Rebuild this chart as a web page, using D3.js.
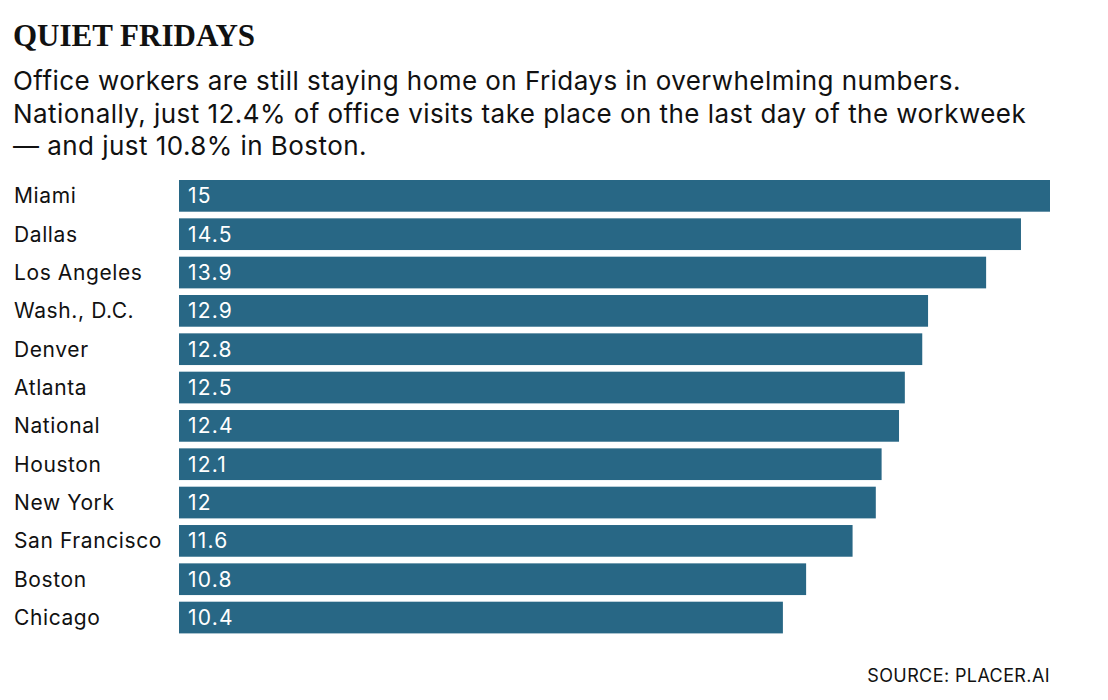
<!DOCTYPE html>
<html>
<head>
<meta charset="utf-8">
<script src="https://cdn.jsdelivr.net/npm/d3@7"></script>
<style>
  body { margin: 0; background: #fff; }
  svg { display: block; }
</style>
</head>
<body>
<div id="chart"></div>
<script>
// data
var cities = ['Miami', 'Dallas', 'Los Angeles', 'Wash., D.C.', 'Denver', 'Atlanta',
  'National', 'Houston', 'New York', 'San Francisco', 'Boston', 'Chicago'];
var fridayShare = [15, 14.5, 13.9, 12.9, 12.8, 12.5, 12.4, 12.1, 12, 11.6, 10.8, 10.4];

var titleText = 'QUIET FRIDAYS';
var subtitleLines = [
  'Office workers are still staying home on Fridays in overwhelming numbers.',
  'Nationally, just 12.4% of office visits take place on the last day of the workweek',
  '\u2014 and just 10.8% in Boston.'
];
var sourceText = 'SOURCE: PLACER.AI';

var width = 1108, height = 700;
var sans = 'Inter, "Noto Sans", sans-serif';
var barColor = '#286785';

var svg = d3.select('#chart').append('svg')
  .attr('width', width)
  .attr('height', height);

// header
svg.append('text')
  .attr('x', 13)
  .attr('y', 46)
  .attr('font-family', '"Liberation Serif", "DejaVu Serif", serif')
  .attr('font-weight', 'bold')
  .attr('font-size', 31)
  .attr('fill', '#111')
  .text(titleText);

svg.append('g')
  .selectAll('text')
  .data(subtitleLines)
  .enter()
  .append('text')
  .attr('x', 13)
  .attr('y', function(d, i) { return 90 + i * 32.5; })
  .attr('font-family', sans)
  .attr('font-size', 26)
  .attr('letter-spacing', 0.45)
  .attr('fill', '#111')
  .text(function(d) { return d; });

// bars
var x = d3.scaleLinear()
  .domain([0, 15])
  .range([179, 1050]);

var y = d3.scaleBand()
  .domain(cities)
  .range([180, 633.4])
  .paddingInner(0.173)
  .paddingOuter(0);

var rows = svg.append('g')
  .selectAll('g')
  .data(cities)
  .enter()
  .append('g');

rows.append('rect')
  .attr('x', x(0))
  .attr('y', function(d) { return y(d); })
  .attr('width', function(d, i) { return x(fridayShare[i]) - x(0); })
  .attr('height', y.bandwidth())
  .attr('fill', barColor);

rows.append('text')
  .attr('x', 14)
  .attr('y', function(d) { return y(d) + y.bandwidth() / 2 + 7.5; })
  .attr('font-family', sans)
  .attr('font-size', 21)
  .attr('letter-spacing', 0.6)
  .attr('fill', '#111')
  .text(function(d) { return d; });

rows.append('text')
  .attr('x', x(0) + 9)
  .attr('y', function(d) { return y(d) + y.bandwidth() / 2 + 7.5; })
  .attr('font-family', sans)
  .attr('font-size', 21)
  .attr('letter-spacing', 1.2)
  .attr('fill', '#fff')
  .text(function(d, i) { return fridayShare[i]; });

// source
svg.append('text')
  .attr('x', 1050)
  .attr('y', 682)
  .attr('text-anchor', 'end')
  .attr('font-family', sans)
  .attr('font-size', 18)
  .attr('letter-spacing', 0.4)
  .attr('fill', '#111')
  .text(sourceText);
</script>
</body>
</html>
